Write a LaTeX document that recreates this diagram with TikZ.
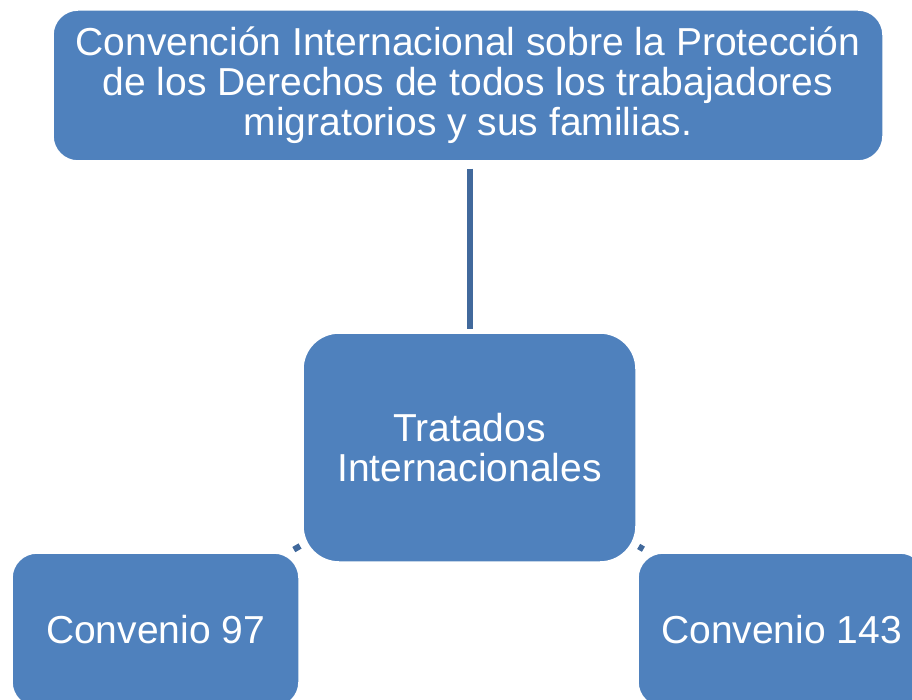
\documentclass[tikz,border=0pt]{standalone}
\usepackage{fontspec}
\setmainfont{Liberation Sans}
\definecolor{boxblue}{HTML}{4F81BD}
\definecolor{linkblue}{HTML}{41699C}
\tikzset{
  sbox/.style={rectangle, rounded corners=25pt, fill=boxblue, draw=white, line width=1.5pt,
    text=white, align=center, inner sep=0pt, font=\fontsize{39}{40}\selectfont},
  link/.style={draw=linkblue, line width=6pt, line cap=butt}
}
\begin{document}
\begin{tikzpicture}[x=1pt,y=-1pt]
\useasboundingbox (0,0) rectangle (912,700);
\node[sbox, minimum width=830pt, minimum height=151pt] (top) at (468,85.5)
  {Convención Internacional sobre la Protección\\de los Derechos de todos los trabajadores\\migratorios y sus familias.};
\node[sbox, rounded corners=36pt, minimum width=333pt, minimum height=229pt] (mid) at (469.5,447.5)
  {Tratados\\Internacionales};
\node[sbox, minimum width=287pt, minimum height=154pt] (left) at (155.5,630) {Convenio 97};
\node[sbox, minimum width=287pt, minimum height=154pt] (right) at (781.5,630) {Convenio 143};
\draw[link, shorten <=7pt, shorten >=3pt] (top.south -| mid.center) -- (mid.north);
\draw[link, shorten <=196pt, shorten >=160pt] (mid.center) -- (left.center);
\draw[link, shorten <=196pt, shorten >=160pt] (mid.center) -- (right.center);
\end{tikzpicture}
\end{document}
